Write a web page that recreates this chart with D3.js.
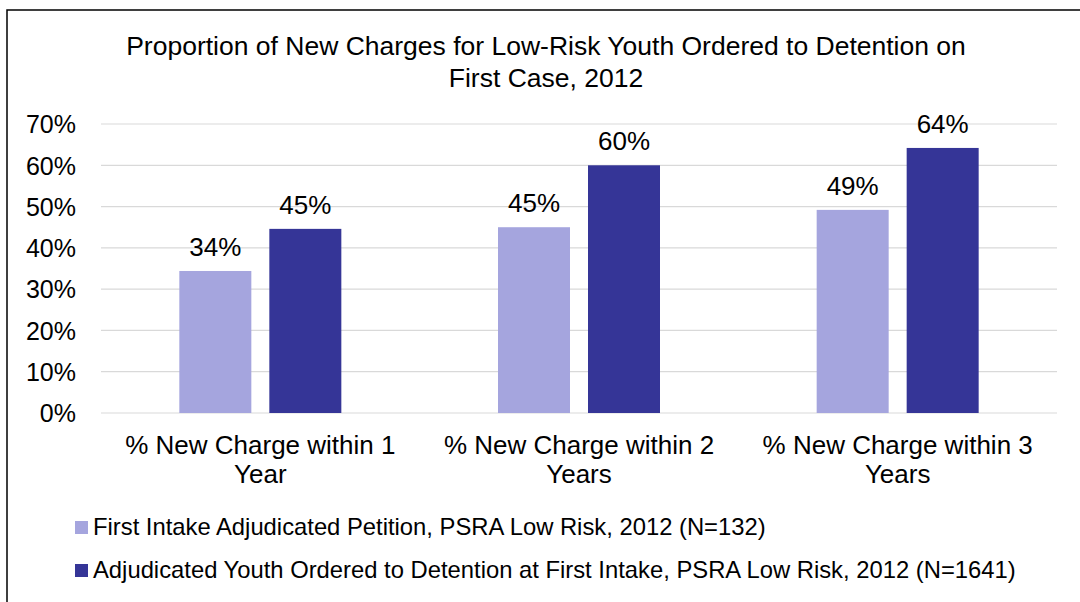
<!DOCTYPE html>
<html><head><meta charset="utf-8">
<script src="https://cdn.jsdelivr.net/npm/d3@7"></script>
<style>body{margin:0;background:#fff}svg{display:block}svg text{font-family:"Liberation Sans",Arial,Helvetica,sans-serif}</style>
</head><body>
<script>
const categories = [["% New Charge within 1", "Year"], ["% New Charge within 2", "Years"], ["% New Charge within 3", "Years"]];
const seriesNames = ["First Intake Adjudicated Petition, PSRA Low Risk, 2012 (N=132)",
  "Adjudicated Youth Ordered to Detention at First Intake, PSRA Low Risk, 2012 (N=1641)"];
const firstIntake = [34.4, 45.0, 49.2];
const detention = [44.6, 60.0, 64.2];
const firstIntakeLabels = ["34%", "45%", "49%"];
const detentionLabels = ["45%", "60%", "64%"];
const yTicks = [0, 10, 20, 30, 40, 50, 60, 70];
const colors = ["#a5a5de", "#353597"];

(function () {
const W = 1080, H = 602;
const FONT = "'Liberation Sans', Arial, Helvetica, sans-serif";
const svg = d3.select("body").append("svg").attr("width", W).attr("height", H);
svg.append("rect").attr("x", 7).attr("y", 10).attr("width", W + 10).attr("height", H + 10)
  .attr("fill", "#fff").attr("stroke", "#000").attr("stroke-width", 1.5);

const pLeft = 101, pRight = 1057, pTop = 124, pBottom = 413;
const x = d3.scaleBand().domain(d3.range(categories.length)).range([pLeft, pRight]);
const y = d3.scaleLinear().domain([0, 70]).range([pBottom, pTop]);

svg.append("text").attr("x", 546).attr("text-anchor", "middle").attr("font-size", 26.5).attr("font-family", FONT).attr("fill", "#000")
  .selectAll("tspan").data(["Proportion of New Charges for Low-Risk Youth Ordered to Detention on", "First Case, 2012"])
  .join("tspan").attr("x", 546).attr("y", (d, i) => 55 + i * 32).text(d => d);

svg.append("g").selectAll("line").data(yTicks).join("line")
  .attr("x1", pLeft).attr("x2", pRight).attr("y1", d => y(d)).attr("y2", d => y(d))
  .attr("stroke", "#d9d9d9").attr("stroke-width", 1.2);

const yAxis = d3.axisLeft(y).tickValues(yTicks).tickFormat(d => d + "%").tickSize(0).tickPadding(0);
const ga = svg.append("g").attr("transform", `translate(76,0)`).call(yAxis);
ga.select(".domain").remove();
ga.selectAll("text").attr("font-size", 25).attr("fill", "#000").attr("font-family", FONT).attr("dy", "0.35em");

const barW = 72, gap = 18;
const series = [firstIntake, detention];
const labels = [firstIntakeLabels, detentionLabels];
series.forEach((vals, s) => {
  const off = s === 0 ? -(gap / 2 + barW) : gap / 2;
  const g = svg.append("g");
  g.selectAll("rect").data(vals).join("rect")
    .attr("x", (d, i) => x(i) + x.bandwidth() / 2 + off)
    .attr("y", d => y(d)).attr("width", barW).attr("height", d => y(0) - y(d))
    .attr("fill", colors[s]);
  g.selectAll("text").data(vals).join("text")
    .attr("x", (d, i) => x(i) + x.bandwidth() / 2 + off + barW / 2)
    .attr("y", d => y(d) - 15).attr("text-anchor", "middle").attr("font-size", 26).attr("font-family", FONT).attr("fill", "#000")
    .text((d, i) => labels[s][i]);
});

svg.append("g").selectAll("text").data(categories).join("text")
  .attr("text-anchor", "middle").attr("font-size", 26).attr("font-family", FONT).attr("fill", "#000")
  .each(function (d, i) {
    d3.select(this).selectAll("tspan").data(d).join("tspan")
      .attr("x", x(i) + x.bandwidth() / 2).attr("y", (t, j) => 454 + j * 29).text(t => t);
  });

const lg = svg.append("g").selectAll("g").data(seriesNames).join("g")
  .attr("transform", (d, i) => `translate(75,${521 + i * 43})`);
lg.append("rect").attr("width", 13).attr("height", 13).attr("fill", (d, i) => colors[i]);
lg.append("text").attr("x", 18).attr("y", 14).attr("font-size", 23.8).attr("font-family", FONT).attr("fill", "#000").text(d => d);
})();
</script>
</body></html>
